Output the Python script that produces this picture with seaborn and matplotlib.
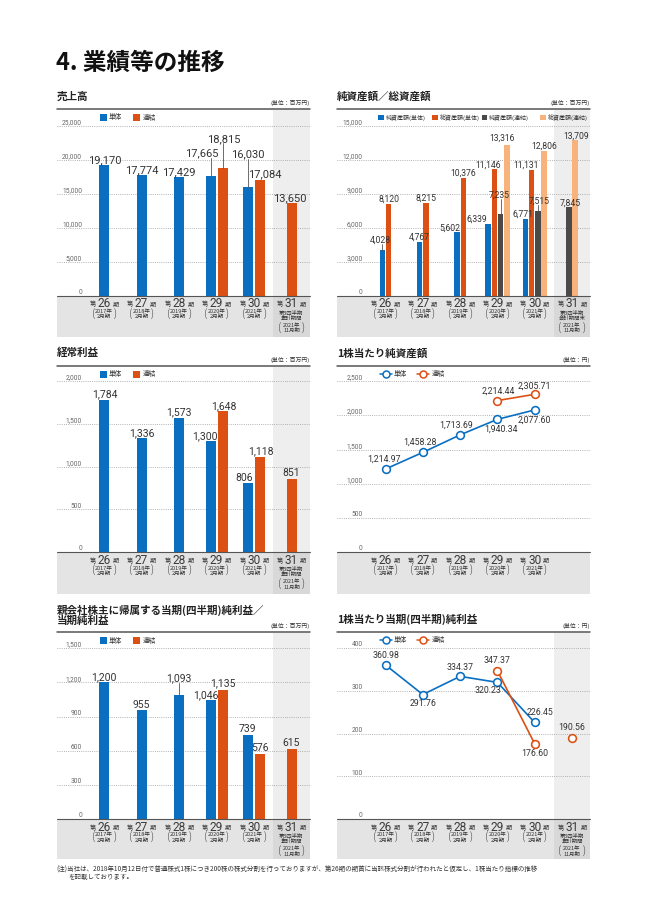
import numpy as np
import pandas as pd
import matplotlib
matplotlib.use("Agg")
import matplotlib.pyplot as plt
from matplotlib.patches import Rectangle
import seaborn as sns

# ---------------- data ----------------
periods = ["26", "27", "28", "29", "30", "31"]
fy_years = ["2017年", "2018年", "2019年", "2020年", "2021年"]
fy_month = "2月期"
q3_year = "2021年"
q3_month = "11月期"

sales_single = [19170, 17774, 17429, 17665, 16030, None]
sales_consol = [None, None, None, 18815, 17084, 13650]

net_assets_single = [4028, 4767, 5602, 6339, 6771, None]
total_assets_single = [8120, 8215, 10376, 11146, 11131, None]
net_assets_consol = [None, None, None, 7235, 7515, 7845]
total_assets_consol = [None, None, None, 13316, 12806, 13709]

ord_profit_single = [1784, 1336, 1573, 1300, 806, None]
ord_profit_consol = [None, None, None, 1648, 1118, 851]

bps_single = [1214.97, 1458.28, 1713.69, 1940.34, 2077.60]
bps_consol = [None, None, None, 2214.44, 2305.71]
bps_consol_segment = [None, None, None, 1, 1]

net_income_single = [1200, 955, 1093, 1046, 739, None]
net_income_consol = [None, None, None, 1135, 576, 615]

eps_single = [360.98, 291.76, 334.37, 320.23, 226.45, None]
eps_consol = [None, None, None, 347.37, 176.60, 190.56]
eps_consol_segment = [None, None, None, 1, 1, 2]

sales_ticks = [0, 5000, 10000, 15000, 20000, 25000]
assets_ticks = [0, 3000, 6000, 9000, 12000, 15000]
ord_ticks = [0, 500, 1000, 1500, 2000]
bps_ticks = [0, 500, 1000, 1500, 2000, 2500]
ni_ticks = [0, 300, 600, 900, 1200, 1500]
eps_ticks = [0, 100, 200, 300, 400]

names_2 = ["単体", "連結"]
names_4 = ["純資産額(単体)", "総資産額(単体)", "純資産額(連結)", "総資産額(連結)"]

# ---------------- style ----------------
sns.set_theme(style="white")
CJK = ["Noto Sans CJK JP", "DejaVu Sans"]
NUM = ["Roboto", "Noto Sans CJK JP", "DejaVu Sans"]
plt.rcParams["font.family"] = CJK

BLUE = "#0a6fc0"
ORANGE = "#dc5014"
DARK = "#4a4a4a"
LIGHT = "#f8b27c"
BAND = "#e4e4e4"
BAND2 = "#d8d8d8"
SHADE = "#eeeeee"
GRID = "#9a9a9a"
TXT = "#333333"
TICKC = "#666666"

W, H = 648, 915
LEFT = dict(x0=57, x1=310, c0=104.0, sp=37.5, shade=273, tick_r=82)
RIGHT = dict(x0=337, x1=590, c0=385.5, sp=37.3, shade=554, tick_r=362.5)
ROWS = [dict(rule=109, gtop=125.7, base=295.7, bbot=337),
        dict(rule=365.7, gtop=381.0, base=552.3, bbot=594),
        dict(rule=632.3, gtop=648.3, base=819.2, bbot=859)]

fig = plt.figure(figsize=(W / 100, H / 100), dpi=100)
ov = fig.add_axes([0, 0, 1, 1])
ov.set_xlim(0, W)
ov.set_ylim(H, 0)
ov.axis("off")
ov.patch.set_visible(False)
ov.set_zorder(10)


def make_axes(col, row, tick_top):
    top = row["rule"] + 1
    base = row["base"]
    ax = fig.add_axes([col["x0"] / W, 1 - base / H,
                       (col["x1"] - col["x0"]) / W, (base - top) / H])
    ax.axis("off")
    return ax


def set_limits(ax, col, row, tick_top):
    top = row["rule"] + 1
    base = row["base"]
    ax.set_xlim((col["x0"] - col["c0"]) / col["sp"], (col["x1"] - col["c0"]) / col["sp"])
    ax.set_ylim(0, tick_top * (base - top) / (base - row["gtop"]))


def decorate(ax, col, row, ticks, ncat, shaded, title_lines, unit, q3_lines):
    x0, x1, base = col["x0"], col["x1"], row["base"]
    if shaded:
        ax.axvspan((col["shade"] - col["c0"]) / col["sp"], ax.get_xlim()[1],
                   color=SHADE, lw=0, zorder=0)
    for t in ticks[1:]:
        ax.axhline(t, color=GRID, lw=0.6, ls=(0, (1, 1.6)), zorder=0.5)
    for t in ticks:
        ypx = base - t / ticks[-1] * (base - row["gtop"])
        ov.text(col["tick_r"], ypx - 1.8, f"{t:,}", ha="right", va="baseline",
                fontsize=4.8, color=TICKC, family=NUM)
    # band
    ov.add_patch(Rectangle((x0, base), x1 - x0, row["bbot"] - base, color=BAND, lw=0, zorder=1))
    if shaded:
        ov.add_patch(Rectangle((col["shade"], base), x1 - col["shade"], row["bbot"] - base,
                               color=BAND2, lw=0, zorder=1))
    ov.plot([x0, x1], [base, base], color="#555555", lw=0.8, zorder=3)
    ov.plot([x0, x1], [row["rule"], row["rule"]], color="#555555", lw=1.1, zorder=3)
    for i in range(ncat):
        cx = col["c0"] + i * col["sp"]
        ov.text(cx, base + 8.0, periods[i], ha="center", va="center", fontsize=8.6,
                family=NUM, color="#3a3a3a", zorder=4)
        ov.text(cx - 11.5, base + 9.0, "第", ha="center", va="center", fontsize=4.4, color=TXT, zorder=4)
        ov.text(cx + 11.5, base + 9.0, "期", ha="center", va="center", fontsize=4.4, color=TXT, zorder=4)
        if i < 5:
            ov.text(cx, base + 15.8, fy_years[i], ha="center", va="center", fontsize=4.0, color=TXT, zorder=4)
            ov.text(cx, base + 21.2, fy_month, ha="center", va="center", fontsize=4.0, color=TXT, zorder=4)
            pm = base + 18.5
            po = 10.8
        else:
            ov.text(cx, base + 16.4, q3_lines[0], ha="center", va="center", fontsize=3.9, color=TXT, zorder=4)
            ov.text(cx, base + 22.2, q3_lines[1], ha="center", va="center", fontsize=3.9, color=TXT, zorder=4)
            ov.text(cx, base + 29.4, q3_year, ha="center", va="center", fontsize=3.9, color=TXT, zorder=4)
            ov.text(cx, base + 35.2, q3_month, ha="center", va="center", fontsize=3.9, color=TXT, zorder=4)
            pm = base + 32.3
            po = 12.0
        ov.text(cx - po, pm, "(", ha="center", va="center", fontsize=7.2, color=TXT,
                fontweight="light", zorder=4)
        ov.text(cx + po, pm, ")", ha="center", va="center", fontsize=7.2, color=TXT,
                fontweight="light", zorder=4)
    # titles / units
    ty = row["rule"] - 12.5 if len(title_lines) == 1 else row["rule"] - 22
    for k, tl in enumerate(title_lines):
        ov.text(x0, ty + k * 10.7, tl, ha="left", va="center", fontsize=7.6,
                fontweight="bold", color="#222222")
    ov.text(x1, row["rule"] - 6, unit, ha="right", va="center", fontsize=4.2, color=TXT)


def bar_legend(col, row, names, colors, xs, size=7, fs=4.8):
    yc = row["rule"] + 8.5
    for name, c, x in zip(names, colors, xs):
        ov.add_patch(Rectangle((x, yc - size / 2), size, size, color=c, lw=0))
        ov.text(x + size + 2, yc, name, ha="left", va="center", fontsize=fs, color=TXT)


def line_legend(row, names, colors, xs):
    yc = row["rule"] + 8.0
    for name, c, x in zip(names, colors, xs):
        ov.plot([x - 6, x + 6], [yc, yc], color=c, lw=1.1)
        ov.plot([x], [yc], marker="o", ms=5, mfc="white", mec=c, mew=1.1)
        ov.text(x + 8, yc, name, ha="left", va="center", fontsize=4.8, color=TXT)


def bar_panel(col, row, ticks, series, names, colors, spacing_px, width_px,
              offsets, fs, ncat=6):
    ax = make_axes(col, row, ticks[-1])
    sp = spacing_px / col["sp"]
    recs = []
    for i in range(ncat):
        present = [k for k in range(len(series)) if series[k][i] is not None]
        n = len(present)
        for j, k in enumerate(present):
            recs.append({"pos": i + (j - (n - 1) / 2) * sp, "value": series[k][i],
                         "series": names[k]})
    df = pd.DataFrame(recs)
    native = np.nanmin(np.diff(np.unique(df["pos"])))
    sns.barplot(data=df, x="pos", y="value", hue="series", hue_order=names,
                palette=dict(zip(names, colors)), native_scale=True, dodge=False,
                width=(width_px / col["sp"]) / native, errorbar=None, legend=False,
                saturation=1, linewidth=0, ax=ax, zorder=2)
    ax.axis("off")
    set_limits(ax, col, row, ticks[-1])
    upp = ticks[-1] / (row["base"] - row["gtop"])
    for (_, r), (dx, dy, lead) in zip(df.iterrows(), offsets):
        ax.annotate(f"{int(r['value']):,}", xy=(r["pos"], r["value"]), xytext=(dx, dy),
                    textcoords="offset pixels", ha="center", va="baseline",
                    fontsize=fs, family=NUM, color=TXT, zorder=5)
        if lead:
            ax.plot([r["pos"], r["pos"]], [r["value"], r["value"] + (dy - 1.5) * upp],
                    color="#555555", lw=0.6, zorder=5)
    return ax


def line_panel(col, row, ticks, single, consol, seg, offs_s, offs_c, fs):
    ax = make_axes(col, row, ticks[-1])
    df_s = pd.DataFrame({"pos": [i for i, v in enumerate(single) if v is not None],
                         "value": [v for v in single if v is not None]})
    df_c = pd.DataFrame({"pos": [i for i, v in enumerate(consol) if v is not None],
                         "value": [v for v in consol if v is not None],
                         "seg": [s for s in seg if s is not None]})
    style = dict(marker="o", markersize=5.6, markerfacecolor="white",
                 markeredgewidth=1.15, linewidth=1.2, zorder=3)
    sns.lineplot(data=df_s, x="pos", y="value", color=BLUE, markeredgecolor=BLUE,
                 ax=ax, **style)
    sns.lineplot(data=df_c, x="pos", y="value", units="seg", estimator=None,
                 color=ORANGE, markeredgecolor=ORANGE, ax=ax, **style)
    ax.axis("off")
    set_limits(ax, col, row, ticks[-1])
    for df, offs in ((df_s, offs_s), (df_c, offs_c)):
        for (_, r), (dx, dy) in zip(df.iterrows(), offs):
            ax.annotate(f"{r['value']:,.2f}", xy=(r["pos"], r["value"]), xytext=(dx, dy),
                        textcoords="offset pixels", ha="center", va="center",
                        fontsize=fs, family=NUM, color=TXT, zorder=5)
    return ax


# ---------- panel 1: 売上高 ----------
off1 = [(1, 2, False), (0, 2, False), (0, 2, False), (-9, 19, True), (1, 26, True),
        (0, 29, True), (5, 2, False), (-2, 2, False)]
ax1 = bar_panel(LEFT, ROWS[0], sales_ticks, [sales_single, sales_consol], names_2,
                [BLUE, ORANGE], 12, 10, off1, 8)
decorate(ax1, LEFT, ROWS[0], sales_ticks, 6, True, ["売上高"], "(単位：百万円)",
         ["第3四半期", "累計期間"])
bar_legend(LEFT, ROWS[0], names_2, [BLUE, ORANGE], [100, 133.3])

# ---------- panel 2: 純資産額／総資産額 ----------
off2 = [(-2, 7.5, True), (0, 2, False),
        (0, 2, False), (0, 2, False),
        (-7, 2, False), (0, 2, False),
        (-11, 2, False), (-6, 2, False), (-1, 16, True), (-5, 4, False),
        (-2, 2, False), (-6, 2, False), (1, 7, True), (0, 2, False),
        (1, 1.5, False), (1, 2, False)]
ax2 = bar_panel(RIGHT, ROWS[0], assets_ticks,
                [net_assets_single, total_assets_single, net_assets_consol, total_assets_consol],
                names_4, [BLUE, ORANGE, DARK, LIGHT], 6.3, 5.4, off2, 6.2)
decorate(ax2, RIGHT, ROWS[0], assets_ticks, 6, True, ["純資産額／総資産額"], "(単位：百万円)",
         ["第3四半期", "会計期間末"])
bar_legend(RIGHT, ROWS[0], names_4, [BLUE, ORANGE, DARK, LIGHT],
           [378.3, 432.3, 481.7, 540], size=5.5, fs=4.3)

# ---------- panel 3: 経常利益 ----------
off3 = [(1, 2, False), (0, 2, False), (0, 2, False), (-6, 2, False), (1, 2, False),
        (-4, 2, False), (1, 2, False), (0, 3, False)]
ax3 = bar_panel(LEFT, ROWS[1], ord_ticks, [ord_profit_single, ord_profit_consol], names_2,
                [BLUE, ORANGE], 12, 10, off3, 7.5)
decorate(ax3, LEFT, ROWS[1], ord_ticks, 6, True, ["経常利益"], "(単位：百万円)",
         ["第3四半期", "累計期間"])
bar_legend(LEFT, ROWS[1], names_2, [BLUE, ORANGE], [100, 133.3])

# ---------- panel 4: 1株当たり純資産額 ----------
offs4_s = [(-2, 10), (-3, 10), (-4, 10), (4, -10), (0, -10)]
offs4_c = [(1, 9.5), (0, 8.5)]
ax4 = line_panel(RIGHT, ROWS[1], bps_ticks, bps_single, bps_consol, bps_consol_segment,
                 offs4_s, offs4_c, 6.3)
decorate(ax4, RIGHT, ROWS[1], bps_ticks, 5, False, ["1株当たり純資産額"], "(単位：円)", None)
line_legend(ROWS[1], names_2, [BLUE, ORANGE], [385.5, 423.3])

# ---------- panel 5: 純利益 ----------
off5 = [(0, 2, False), (0, 2, False), (0, 13, True), (-5, 2, False), (0, 4, False),
        (-1, 3, False), (0, 3, False), (0, 3, False)]
ax5 = bar_panel(LEFT, ROWS[2], ni_ticks, [net_income_single, net_income_consol], names_2,
                [BLUE, ORANGE], 12, 10, off5, 7.5)
decorate(ax5, LEFT, ROWS[2], ni_ticks, 6, True,
         ["親会社株主に帰属する当期(四半期)純利益／", "当期純利益"], "(単位：百万円)",
         ["第3四半期", "累計期間"])
bar_legend(LEFT, ROWS[2], names_2, [BLUE, ORANGE], [100, 133.3])

# ---------- panel 6: 1株当たり当期純利益 ----------
offs6_s = [(0, 9), (0, -9), (0, 9), (-9, -8.5), (5, 10)]
offs6_c = [(0, 10), (0, -10), (0, 10)]
ax6 = line_panel(RIGHT, ROWS[2], eps_ticks, eps_single, eps_consol, eps_consol_segment,
                 offs6_s, offs6_c, 6.3)
decorate(ax6, RIGHT, ROWS[2], eps_ticks, 6, True, ["1株当たり当期(四半期)純利益"], "(単位：円)",
         ["第3四半期", "累計期間"])
line_legend(ROWS[2], names_2, [BLUE, ORANGE], [385.5, 423.3])

# ---------- page title & footnote ----------
ov.text(56, 63, "4. 業績等の推移", ha="left", va="center", fontsize=17,
        fontweight="bold", color="#111111")
ov.text(56.5, 870, "(注)当社は、2018年10月12日付で普通株式1株につき200株の株式分割を行っておりますが、"
        "第26期の期首に当該株式分割が行われたと仮定し、1株当たり指標の推移",
        ha="left", va="center", fontsize=4.7, color=TXT)
ov.text(68, 877, "を記載しております。", ha="left", va="center", fontsize=4.7, color=TXT)

fig.savefig("out.png", dpi=100)
